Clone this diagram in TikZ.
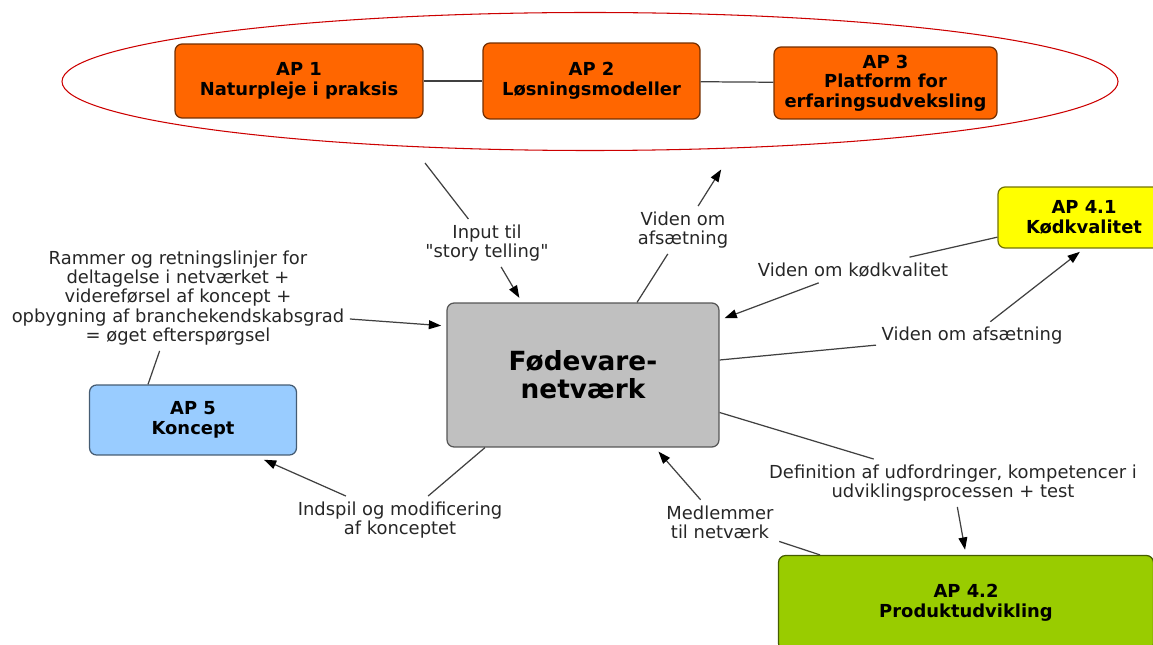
\documentclass[tikz,border=0pt]{standalone}
\usepackage{fontspec}
\setmainfont{DejaVu Sans}
\newfontfamily\lblfont{DejaVu Sans}
\usetikzlibrary{arrows.meta}

\definecolor{apOrange}{RGB}{255,102,0}
\definecolor{apGray}{RGB}{192,192,192}
\definecolor{apYellow}{RGB}{255,255,0}
\definecolor{apBlue}{RGB}{153,204,255}
\definecolor{apGreen}{RGB}{153,204,0}
\definecolor{linkGray}{RGB}{64,64,64}

\begin{document}
\begin{tikzpicture}[x=0.02cm, y=-0.02cm,
    apbox/.style={draw=#1!45!black, fill=#1, rounded corners=4pt, line width=0.7pt,
        align=center, font=\fontsize{10.2}{11.1}\selectfont\bfseries},
    lbl/.style={align=center, inner sep=3pt, font=\lblfont\fontsize{10.2}{11}\selectfont, text=black!85},
    link/.style={draw=linkGray, line width=0.7pt},
    flow/.style={link, -{Triangle[length=7pt, width=5pt, color=black]}, shorten >=3pt}]
        \useasboundingbox (0,0) rectangle (1153,645);

        % Draw the ring round the three work packages
        \draw[red!80!black, line width=0.6pt] (590,81.5) ellipse (528 and 69);
        \coordinate (ringIn) at (425,163);
        \coordinate (ringOut) at (724,165);

        % Work packages
        \node[apbox=apOrange, minimum width=4.96cm, minimum height=1.48cm] (ap1) at (299,81) {AP 1\\Naturpleje i praksis};
        \node[apbox=apOrange, minimum width=4.34cm, minimum height=1.52cm] (ap2) at (591.5,81) {AP 2\\Løsningsmodeller};
        \node[apbox=apOrange, minimum width=4.46cm, minimum height=1.44cm] (ap3) at (885.5,83) {AP 3\\Platform for\\erfaringsudveksling};
        \node[apbox=apYellow, minimum width=3.44cm, minimum height=1.22cm] (ap41) at (1084,217.5) {AP 4.1\\Kødkvalitet};
        \node[apbox=apBlue, minimum width=4.14cm, minimum height=1.4cm] (ap5) at (193,420) {AP 5\\Koncept};
        \node[apbox=apGreen, minimum width=7.5cm, minimum height=1.9cm] (ap42) at (966,603) {AP 4.2\\Produktudvikling};

        % The network in the middle
        \node[apbox=apGray, minimum width=5.44cm, minimum height=2.88cm,
            font=\fontsize{15}{16}\selectfont\bfseries] (fnet) at (583,375) {Fødevare-\\netværk};

        \draw[link] (ap1) -- (ap2);
        \draw[link] (ap2) -- (ap3);

        % Labels
        \node[lbl] (lInput) at (487,243) {Input til\\"story telling"};
        \node[lbl] (lSalgTop) at (683,230) {Viden om\\afsætning};
        \node[lbl] (lRammer) at (178,298) {Rammer og retningslinjer for\\deltagelse i netværket +\\videreførsel af koncept +\\opbygning af branchekendskabsgrad\\= øget efterspørgsel};
        \node[lbl] (lKoed) at (853,270) {Viden om kødkvalitet};
        \node[lbl] (lSalgRight) at (972,336) {Viden om afsætning};
        \node[lbl] (lDef) at (953,483) {Definition af udfordringer, kompetencer i\\udviklingsprocessen + test};
        \node[lbl] (lMedlem) at (720,522) {Medlemmer\\til netværk};
        \node[lbl] (lIndspil) at (400,520) {Indspil og modificering\\af konceptet};

        % Connectors
        \draw[link] (ringIn) -- (lInput);
        \draw[flow] (lInput) -- (fnet.north -| 522,0);
        \draw[link] (fnet.north -| 637,0) -- (lSalgTop);
        \draw[flow] (lSalgTop) -- (ringOut);
        \draw[flow] ([yshift=-0.42cm]lRammer.east) -- ([yshift=0.98cm]fnet.west);
        \draw[link] (lRammer) -- (ap5.north -| 148,0);
        \draw[link] (ap41) -- (lKoed);
        \draw[flow] (lKoed) -- ([yshift=1.1cm]fnet.east);
        \draw[link] ([yshift=0.3cm]fnet.east) -- (lSalgRight);
        \draw[flow] (lSalgRight) -- (ap41.south);
        \draw[link] ([yshift=-0.75cm]fnet.east) -- (lDef);
        \draw[flow] (lDef) -- (ap42.north);
        \draw[link] (ap42.north -| 820,0) -- (lMedlem);
        \draw[flow] (lMedlem) -- (fnet.south -| 655,0);
        \draw[link] (fnet.south -| 485,0) -- (lIndspil);
        \draw[flow] (lIndspil) -- ([xshift=-0.76cm, yshift=-0.04cm]ap5.south east);
\end{tikzpicture}
\end{document}
